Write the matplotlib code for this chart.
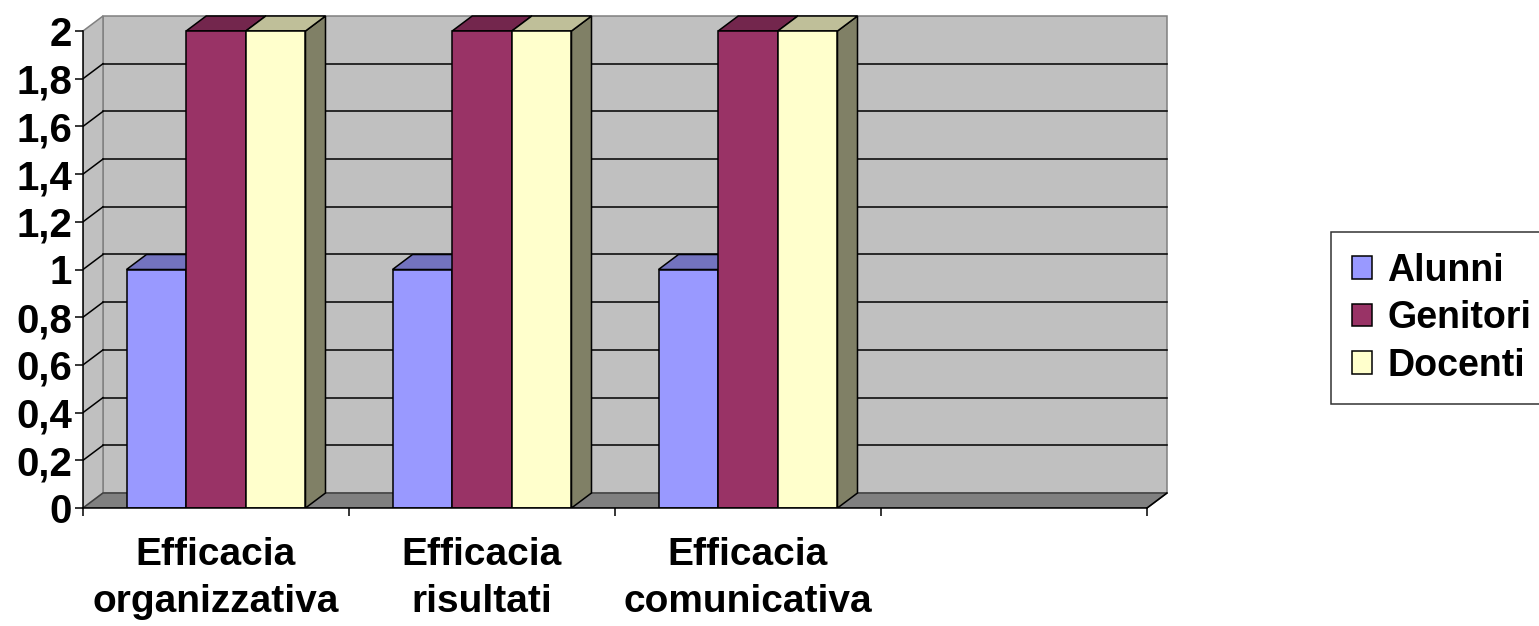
import numpy as np
import matplotlib
matplotlib.use("Agg")
import matplotlib.pyplot as plt
from matplotlib.patches import Polygon, Patch

plt.rcParams['font.family'] = ['Liberation Sans', 'DejaVu Sans']
plt.rcParams['font.weight'] = 'bold'

# dati
categorie = ["Efficacia\norganizzativa", "Efficacia\nrisultati", "Efficacia\ncomunicativa", ""]
serie = ["Alunni", "Genitori", "Docenti"]
alunni = [1, 1, 1]
genitori = [2, 2, 2]
docenti = [2, 2, 2]
valori = [alunni, genitori, docenti]
yticks = [0, 0.2, 0.4, 0.6, 0.8, 1, 1.2, 1.4, 1.6, 1.8, 2]

# colori stile Excel: fronte, sopra, lato
col_front = ["#9999FF", "#993366", "#FFFFCC"]
col_top = ["#7373BF", "#73264D", "#BFBF99"]
col_side = ["#4D4D80", "#4D1A33", "#808066"]

ncat = len(categorie)
ymax = 2
dx, dy = 0.0752, 0.0629      # profondità 3D in unità dati
w = 0.2243                   # larghezza barra
gap = (1 - 3 * w) / 2
lw = 1.1

W, H = 1539, 626
fig = plt.figure(figsize=(W / 100, H / 100), dpi=100)
ax = fig.add_axes([83 / W, 118 / H, (4.1 * 266) / W, (2.1 * 238.5) / H])
ax.set_xlim(0, 4.1)
ax.set_ylim(0, 2.1)
ax.patch.set_visible(False)

# pareti
back = Polygon([(dx, dy), (ncat + dx, dy), (ncat + dx, ymax + dy), (dx, ymax + dy)],
               closed=True, fc="#C0C0C0", ec="#808080", lw=lw, zorder=1)
left = Polygon([(0, 0), (dx, dy), (dx, ymax + dy), (0, ymax)],
               closed=True, fc="#C0C0C0", ec="#808080", lw=lw, zorder=1)
floor = Polygon([(0, 0), (ncat, 0), (ncat + dx, dy), (dx, dy)],
                closed=True, fc="#808080", ec="#404040", lw=lw, zorder=1)
for p in (back, left, floor):
    ax.add_patch(p)

# griglia
for v in yticks[1:-1]:
    ax.plot([dx, ncat + dx], [v + dy, v + dy], color="black", lw=lw, zorder=2)
    ax.plot([0, dx], [v, v + dy], color="black", lw=lw, zorder=2)

# barre
for i in range(ncat):
    for k in range(len(serie)):
        if i >= len(valori[k]):
            continue
        v = valori[k][i]
        x0 = i + gap + k * w
        side = Polygon([(x0 + w, 0), (x0 + w + dx, dy), (x0 + w + dx, v + dy), (x0 + w, v)],
                       closed=True, fc=col_side[k], ec="black", lw=lw, zorder=3)
        top = Polygon([(x0, v), (x0 + w, v), (x0 + w + dx, v + dy), (x0 + dx, v + dy)],
                      closed=True, fc=col_top[k], ec="black", lw=lw, zorder=3)
        front = Polygon([(x0, 0), (x0 + w, 0), (x0 + w, v), (x0, v)],
                        closed=True, fc=col_front[k], ec="black", lw=lw, zorder=3)
        ax.add_patch(side)
        ax.add_patch(top)
        ax.add_patch(front)

# bordo destro del pavimento
ax.plot([ncat, ncat + dx], [0, dy], color="black", lw=lw, zorder=4, clip_on=False)

# assi
for s in ("top", "right"):
    ax.spines[s].set_visible(False)
ax.spines["left"].set_bounds(0, ymax)
ax.spines["bottom"].set_bounds(0, ncat)
for s in ("left", "bottom"):
    ax.spines[s].set_linewidth(lw)
    ax.spines[s].set_zorder(5)

ax.set_yticks(yticks)
ax.set_yticklabels([f"{t:g}".replace(".", ",") for t in yticks])
ax.tick_params(axis="y", length=6, width=lw, pad=2, labelsize=29)

ax.set_xticks(np.arange(ncat + 1))
ax.set_xticklabels([])
ax.set_xticks(np.arange(ncat) + 0.5, minor=True)
ax.set_xticklabels(categorie, minor=True, fontsize=28, linespacing=1.4)
ax.tick_params(axis="x", which="major", length=6, width=lw)
ax.tick_params(axis="x", which="minor", length=0, pad=21)

# legenda
handles = [Patch(fc=c, ec="black", lw=lw) for c in col_front]
leg = fig.legend(handles, serie, loc="upper left",
                 bbox_to_anchor=(1331 / W, 1 - 232 / H), borderaxespad=0,
                 fontsize=27, frameon=True, fancybox=False, edgecolor="black",
                 handlelength=0.55, handleheight=0.55, handletextpad=0.4,
                 labelspacing=0.31, borderpad=0.55)
leg.get_frame().set_linewidth(lw)

fig.savefig("out.png", dpi=100)
